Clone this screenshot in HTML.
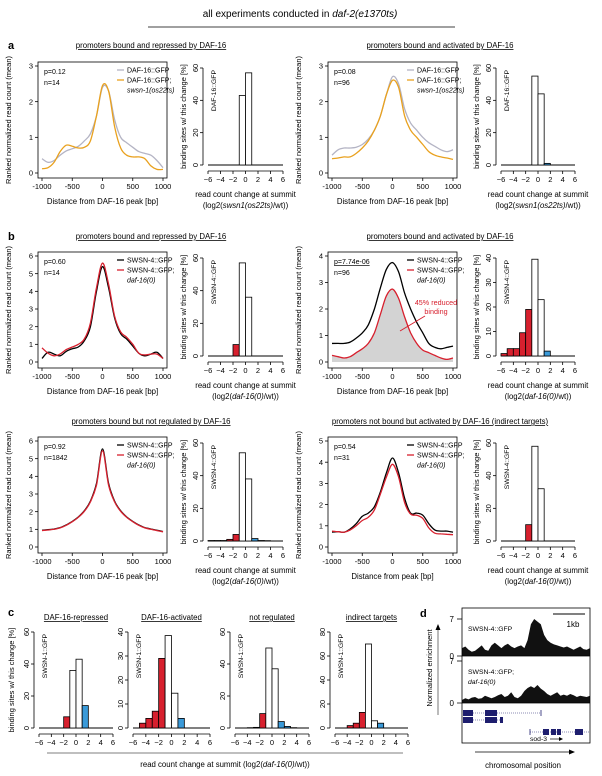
<!DOCTYPE html>
<html><head><meta charset="utf-8"><style>
html,body{margin:0;padding:0;background:#fff;}
svg{display:block;font-family:"Liberation Sans",Arial,sans-serif;}
</style></head><body>
<svg id="fig" width="602" height="776" viewBox="0 0 602 776" xmlns="http://www.w3.org/2000/svg">
<text x="300" y="17" font-size="10" text-anchor="middle">all experiments conducted in <tspan font-style="italic">daf-2(e1370ts)</tspan></text>
<line x1="148" y1="27" x2="455" y2="27" stroke="#000" stroke-width="0.8"/>
<text x="8" y="49" font-size="11" font-weight="bold">a</text>
<text x="8" y="240" font-size="11" font-weight="bold">b</text>
<text x="8" y="616" font-size="11" font-weight="bold">c</text>
<text x="420" y="617" font-size="11" font-weight="bold">d</text>
</svg>
<script>
// ---------- data ----------
const positions = [-1000,-900,-800,-700,-600,-500,-400,-300,-200,-100,0,100,200,300,400,500,600,700,800,900,1000];
const xTicks = [-1000,-500,0,500,1000];
const xTickLabels = ["-1000","-500","0","500","1000"];
const aLeftWT = [0.4,0.3,0.35,0.5,0.62,0.68,0.75,0.9,1.1,1.6,2.4,2.3,1.5,1.0,0.85,0.72,0.6,0.55,0.5,0.35,0.15];
const aLeftMut = [0.12,0.15,0.3,0.6,0.78,0.75,0.7,0.72,0.9,1.6,2.45,2.3,1.3,0.7,0.5,0.45,0.45,0.4,0.2,0.1,0.1];
const aRightWT = [0.5,0.65,0.7,0.7,0.72,0.8,0.95,1.2,1.6,2.2,2.7,2.5,1.8,1.4,1.2,1.0,0.85,0.75,0.65,0.6,0.65];
const aRightMut = [0.4,0.42,0.45,0.45,0.55,0.7,0.9,1.2,1.6,2.2,2.6,2.4,1.6,1.2,1.0,0.8,0.6,0.5,0.45,0.42,0.38];
const b1LeftWT = [0.2,0.55,0.45,0.35,0.6,0.75,0.85,1.2,2.0,4.0,5.4,4.2,2.5,1.6,1.3,0.9,0.5,0.35,0.45,0.55,0.2];
const b1LeftMut = [0.8,0.5,0.35,0.45,0.7,0.85,1.0,1.3,2.2,4.2,5.6,4.4,2.6,1.7,1.4,1.0,0.5,0.4,0.45,0.45,0.2];
const b1RightWT = [0.7,0.7,0.7,0.75,0.9,1.1,1.4,2.0,2.8,3.5,3.75,3.4,2.6,2.0,1.5,1.1,0.7,0.55,0.5,0.55,0.6];
const b1RightMut = [0.25,0.2,0.15,0.2,0.35,0.5,0.7,1.1,1.8,2.5,2.75,2.4,1.7,1.1,0.7,0.45,0.35,0.25,0.15,0.1,0.15];
const b2LeftWT = [0.95,0.98,1.02,1.1,1.25,1.45,1.7,2.05,2.6,3.6,5.55,3.6,2.6,2.05,1.7,1.45,1.25,1.1,1.02,0.95,0.88];
const b2LeftMut = [0.93,0.96,1.0,1.08,1.23,1.43,1.68,2.02,2.55,3.5,5.45,3.5,2.55,2.02,1.68,1.43,1.23,1.08,1.0,0.93,0.86];
const b2RightWT = [0.7,0.72,0.7,0.85,1.1,1.45,1.6,1.9,2.6,3.5,4.2,3.5,2.3,1.6,1.6,1.5,1.1,0.8,0.75,0.75,0.7];
const b2RightMut = [0.75,0.72,0.7,0.8,1.0,1.25,1.4,1.75,2.5,3.3,3.9,3.3,2.1,1.55,1.5,1.35,0.9,0.65,0.62,0.6,0.58];
const binStarts = [-6,-5,-4,-3,-2,-1,0,1,2,3,4,5];
const histTickVals = [-6,-4,-2,0,2,4,6];
const histTickLabels = ["\u22126","\u22124","\u22122","0","2","4","6"];
const histALeft = [0,0,0,0,0,43,57,0,0,0,0,0];
const histARight = [0,0,0,0,0,55,44,1,0,0,0,0];
const histB1Left = [0,0,0,0,7,57,36,0,0,0,0,0];
const histB1Right = [1,3,3,9.5,19,39.5,23,2,0,0,0,0];
const histB2Left = [0.3,0.3,0.3,1,4,54,38,1.5,0.3,0.2,0,0];
const histB2Right = [0,0,0,0,10,58,32,0,0,0,0,0];
const histC1 = [0,0,0,0,7,36,43,14,0,0,0,0];
const histC2 = [0,2,4,7,29,38.5,14.5,4,0,0,0,0];
const histC3 = [0,0,0.2,0.4,9,50,37,4,1,0.2,0,0];
const histC4 = [0,0,2,4,13,70,6,4,0,0,0,0];
const trackWT = [1.5,1.8,1.2,0.8,1,1.5,2,1.2,1,2,2.5,2,1.5,2,2.3,1.8,1.5,1.8,2,1.5,3,6,7,6.5,6,4,3,2.5,2.2,2,1.8,1.6,1.8,1.5,1.2,1.5,1.8,1.3,1.2,1.5];
const trackMut = [0.5,0.8,0.6,0.9,1,0.7,0.8,1.2,1,0.8,1,1.3,1.5,1,1.2,1.8,1,0.8,1.2,2,2.5,2.8,2.5,3,2.4,2,1.5,1.2,1.5,1.8,1.2,1.4,1.2,1.5,1.3,1,1.2,1.1,1,1.2];

// ---------- helpers ----------
const NS = "http://www.w3.org/2000/svg";
const svg = document.getElementById("fig");
function mk(tag, attrs, parent){const e=document.createElementNS(NS,tag);for(const k in attrs)e.setAttribute(k,attrs[k]);(parent||svg).appendChild(e);return e;}
function txt(x,y,s,size,anchor,parent,extra){const t=mk("text",Object.assign({x:x,y:y,"font-size":size,"text-anchor":anchor||"start"},extra||{}),parent);t.textContent=s;return t;}
function smooth(pts){let d="M"+pts[0][0]+","+pts[0][1];for(let i=0;i<pts.length-1;i++){const p0=pts[i-1]||pts[i],p1=pts[i],p2=pts[i+1],p3=pts[i+2]||p2;const c1=[p1[0]+(p2[0]-p0[0])/6,p1[1]+(p2[1]-p0[1])/6],c2=[p2[0]-(p3[0]-p1[0])/6,p2[1]-(p3[1]-p1[1])/6];d+=" C"+c1[0].toFixed(1)+","+c1[1].toFixed(1)+" "+c2[0].toFixed(1)+","+c2[1].toFixed(1)+" "+p2[0].toFixed(1)+","+p2[1].toFixed(1);}return d;}

function linePanel(c){
  const g=mk("g",{});
  
  
  const sx=v=>c.xa+(v+1000)/2000*(c.xb-c.xa);
  const sy=v=>c.ya0-v/c.ymax*(c.ya0-c.yaM);
  if(c.fill){const pts=positions.map((p,i)=>[sx(p),sy(c.fill[i])]);const f=mk("path",{d:smooth(pts)+" L"+sx(1000)+","+sy(0)+" L"+sx(-1000)+","+sy(0)+" Z",fill:"#d3d3d3",stroke:"none"},g);
    
    }
  c.series.forEach(s=>{const pts=positions.map((p,i)=>[sx(p),sy(s.vals[i])]);const p=mk("path",{d:smooth(pts),fill:"none",stroke:s.color,"stroke-width":1.3},g);
    
    });
  const box=mk("rect",{x:c.bx0,y:c.by0,width:c.bx1-c.bx0,height:c.by1-c.by0,fill:"none",stroke:"#000","stroke-width":0.8},g);
  
  
  xTicks.forEach((v,i)=>{mk("line",{x1:sx(v),x2:sx(v),y1:c.by1,y2:c.by1+3,stroke:"#000","stroke-width":0.8},g);txt(sx(v),c.by1+11,xTickLabels[i],7.5,"middle",g);});
  for(let v=0;v<=c.ymax;v++){mk("line",{x1:c.bx0-3,x2:c.bx0,y1:sy(v),y2:sy(v),stroke:"#000","stroke-width":0.8},g);txt(c.bx0-5,sy(v)+2.7,String(v),7.5,"end",g);}
  const yl=txt(0,0,"Ranked normalized read count (mean)",7.5,"middle",g,{transform:"translate("+(c.bx0-27)+","+((c.by0+c.by1)/2)+") rotate(-90)"});
  
  
  const xl=txt((c.bx0+c.bx1)/2,c.by1+26,c.xlabel,7.8,"middle",g);
  
  
  const pt=txt(c.bx0+6,c.by0+12,c.p,7,"start",g,c.pUnder?{"text-decoration":"underline"}:{});
  
  
  txt(c.bx0+6,c.by0+23,c.n,7,"start",g);
  const lx=c.bx0+79;
  c.series.forEach((s,i)=>{const y=c.by0+8+i*10;mk("line",{x1:lx,x2:lx+7,y1:y,y2:y,stroke:s.color,"stroke-width":1.3},g);txt(lx+10,y+2.5,s.label,7,"start",g);});
  const t2=mk("text",{x:lx+10,y:c.by0+30.5,"font-size":7,"font-style":"italic"},g);t2.textContent=c.mutLabel;
  const tt=txt(c.titleX,c.titleY,c.title,7.8,"middle",svg,{"text-decoration":"underline"});
  
  
}

function histPanel(c){
  const g=mk("g",{});
  
  
  const sx=v=>c.xa+(v+6)/12*(c.xb-c.xa);
  const sy=v=>c.y0-v/c.ymax*(c.y0-c.yM);
  mk("line",{x1:sx(-6),x2:sx(6),y1:c.y0,y2:c.y0,stroke:"#000","stroke-width":1},g);
  binStarts.forEach((b,i)=>{const v=c.vals[i];if(v<=0)return;const col=b<-1?"#d7202e":(b>=1?"#3a9ad9":"#fff");
    const r=mk("rect",{x:sx(b),y:sy(v),width:sx(b+1)-sx(b),height:c.y0-sy(v),fill:col,stroke:"#000","stroke-width":0.8},g);
    
    });
  const ax=sx(-6)-5, ay=c.y0+6;
  mk("line",{x1:sx(-6),x2:sx(6),y1:ay,y2:ay,stroke:"#000","stroke-width":0.8},g);
  histTickVals.forEach((v,i)=>{mk("line",{x1:sx(v),x2:sx(v),y1:ay,y2:ay+3,stroke:"#000","stroke-width":0.8},g);txt(sx(v),ay+11,histTickLabels[i],7.5,"middle",g);});
  mk("line",{x1:ax,x2:ax,y1:c.y0,y2:c.yM,stroke:"#000","stroke-width":0.8},g);
  c.yticks.forEach(v=>{mk("line",{x1:ax-3,x2:ax,y1:sy(v),y2:sy(v),stroke:"#000","stroke-width":0.8},g);txt(0,0,String(v),7.5,"middle",g,{transform:"translate("+(ax-5)+","+sy(v)+") rotate(-90)"});});
  if(c.ylabel){const yl=txt(0,0,"binding sites w/ this change [%]",7.5,"middle",g,{transform:"translate("+c.ylabX+","+((c.y0+c.yM)/2)+") rotate(-90)"});
    
    }
  txt(0,0,c.gfp,6.8,"end",g,{transform:"translate("+(sx(-6)+8)+","+(c.yM+2)+") rotate(-90)"});
  if(c.xl1){const m=(sx(-6)+sx(6))/2;txt(m,ay+26,c.xl1,7.8,"middle",g);
    const t=mk("text",{x:m,y:ay+37,"font-size":7.8,"text-anchor":"middle"},g);
    t.appendChild(document.createTextNode("(log2("));const it=mk("tspan",{"font-style":"italic"},t);it.textContent=c.xlIt;t.appendChild(document.createTextNode("/wt))"));}
  if(c.title){const tt=txt((sx(-6)+sx(6))/2,c.titleY,c.title,7.8,"middle",svg,{"text-decoration":"underline"});
    
    }
}

const L={bx0:38,bx1:167,xa:42,xb:163,hxa:208,hxb:283,hyl:186,titleX:151};
const R={bx0:328,bx1:457,xa:332,xb:453,hxa:501,hxb:575,hyl:479,titleX:440};
const rowA={by0:62,by1:178,ya0:173,yaM:66,hy0:165,hyM:68,titleY:48};
const rowB1={by0:252,by1:368,ya0:362,yaM:256,hy0:356,hyM:258,titleY:239};
const rowB2={by0:437,by1:553,ya0:547,yaM:441,hy0:541,hyM:443,titleY:424};
const GREY="#b4b4c4",ORANGE="#e9a11e",RED="#d7202e";

function row(col,rw,o){
  linePanel({name:o.name+"-profile",bx0:col.bx0,bx1:col.bx1,by0:rw.by0,by1:rw.by1,xa:col.xa,xb:col.xb,ya0:rw.ya0,yaM:rw.yaM,ymax:o.ymax,
    series:o.series,title:o.title,titleX:col.titleX,titleY:rw.titleY,p:o.p,pUnder:o.pUnder,n:o.n,mutLabel:o.mutLabel,xlabel:o.xlabel||"Distance from DAF-16 peak [bp]",fill:o.fill});
  histPanel({name:o.name+"-histogram",xa:col.hxa,xb:col.hxb,y0:rw.hy0,yM:rw.hyM,ymax:o.hmax,yticks:o.hticks,vals:o.hist,ylabel:true,ylabX:col.hyl,gfp:o.gfp,
    xl1:"read count change at summit",xlIt:o.xlIt});
}
const t60=[0,20,40,60];
row(L,rowA,{name:"a-repressed",ymax:3,series:[{vals:aLeftWT,color:GREY,label:"DAF-16::GFP",nm:"daf16-gfp-line"},{vals:aLeftMut,color:ORANGE,label:"DAF-16::GFP;",nm:"swsn1-mutant-line"}],
  title:"promoters bound and repressed by DAF-16",p:"p=0.12",n:"n=14",mutLabel:"swsn-1(os22ts)",hmax:60,hticks:t60,hist:histALeft,gfp:"DAF-16::GFP",xlIt:"swsn1(os22ts)"});
row(R,rowA,{name:"a-activated",ymax:3,series:[{vals:aRightWT,color:GREY,label:"DAF-16::GFP",nm:"daf16-gfp-line"},{vals:aRightMut,color:ORANGE,label:"DAF-16::GFP;",nm:"swsn1-mutant-line"}],
  title:"promoters bound and activated by DAF-16",p:"p=0.08",n:"n=96",mutLabel:"swsn-1(os22ts)",hmax:60,hticks:t60,hist:histARight,gfp:"DAF-16::GFP",xlIt:"swsn1(os22ts)"});
row(L,rowB1,{name:"b-repressed",ymax:6,series:[{vals:b1LeftWT,color:"#000",label:"SWSN-4::GFP",nm:"swsn4-gfp-line"},{vals:b1LeftMut,color:RED,label:"SWSN-4::GFP;",nm:"daf16-null-line"}],
  title:"promoters bound and repressed by DAF-16",p:"p=0.60",n:"n=14",mutLabel:"daf-16(0)",hmax:60,hticks:t60,hist:histB1Left,gfp:"SWSN-4::GFP",xlIt:"daf-16(0)"});
row(R,rowB1,{name:"b-activated",ymax:4,fill:b1RightMut,series:[{vals:b1RightWT,color:"#000",label:"SWSN-4::GFP",nm:"swsn4-gfp-line"},{vals:b1RightMut,color:RED,label:"SWSN-4::GFP;",nm:"daf16-null-line"}],
  title:"promoters bound and activated by DAF-16",p:"p=7.74e-06",pUnder:true,n:"n=96",mutLabel:"daf-16(0)",hmax:40,hticks:[0,10,20,30,40],hist:histB1Right,gfp:"SWSN-4::GFP",xlIt:"daf-16(0)"});
row(L,rowB2,{name:"b-not-regulated",ymax:6,series:[{vals:b2LeftWT,color:"#000",label:"SWSN-4::GFP",nm:"swsn4-gfp-line"},{vals:b2LeftMut,color:RED,label:"SWSN-4::GFP;",nm:"daf16-null-line"}],
  title:"promoters bound but not regulated by DAF-16",p:"p=0.92",n:"n=1842",mutLabel:"daf-16(0)",hmax:60,hticks:t60,hist:histB2Left,gfp:"SWSN-4::GFP",xlIt:"daf-16(0)"});
row(R,rowB2,{name:"b-indirect",ymax:5,series:[{vals:b2RightWT,color:"#000",label:"SWSN-4::GFP",nm:"swsn4-gfp-line"},{vals:b2RightMut,color:RED,label:"SWSN-4::GFP;",nm:"daf16-null-line"}],
  title:"promoters not bound but activated by DAF-16 (indirect targets)",xlabel:"Distance from peak [bp]",p:"p=0.54",n:"n=31",mutLabel:"daf-16(0)",hmax:60,hticks:t60,hist:histB2Right,gfp:"SWSN-4::GFP",xlIt:"daf-16(0)"});

// annotation in b-activated
const ann=txt(436,305,"45% reduced",7.2,"middle",svg,{fill:RED});


txt(436,314,"binding",7.2,"middle",svg,{fill:RED});
mk("line",{x1:425,y1:316,x2:400,y2:331,stroke:RED,"stroke-width":1});

// panel c
const cDefs=[{n:"c-repressed",xa:39,xb:113,max:60,t:[0,20,40,60],v:histC1,title:"DAF-16-repressed"},
  {n:"c-activated",xa:133,xb:210,max:40,t:[0,10,20,30,40],v:histC2,title:"DAF-16-activated"},
  {n:"c-not-regulated",xa:235,xb:309,max:60,t:[0,20,40,60],v:histC3,title:"not regulated"},
  {n:"c-indirect",xa:335,xb:408,max:80,t:[0,20,40,60,80],v:histC4,title:"indirect targets"}];
cDefs.forEach((d,i)=>histPanel({name:d.n+"-histogram",xa:d.xa,xb:d.xb,y0:728,yM:632,ymax:d.max,yticks:d.t,vals:d.v,ylabel:i===0,ylabX:14,gfp:"SWSN-1::GFP",title:d.title,titleY:620}));
mk("line",{x1:47,x2:403,y1:753,y2:753,stroke:"#000","stroke-width":0.6});
const cx=mk("text",{x:225,y:767,"font-size":7.8,"text-anchor":"middle"});


cx.appendChild(document.createTextNode("read count change at summit (log2("));
const cit=mk("tspan",{"font-style":"italic"},cx);cit.textContent="daf-16(0)";
cx.appendChild(document.createTextNode("/wt))"));

// panel d
const dg=mk("g",{});


const dx0=462,dx1=590;
function track(vals,base,top,nm){
  const sx=i=>dx0+i/(vals.length-1)*(dx1-dx0);
  const sy=v=>base-v/7*(base-top);
  let d="M"+dx0+","+base;vals.forEach((v,i)=>{d+=" L"+sx(i).toFixed(1)+","+sy(v).toFixed(1);});d+=" L"+dx1+","+base+" Z";
  const p=mk("path",{d:d,fill:"#111",stroke:"none"},dg);
  
  
  mk("line",{x1:dx0-5,x2:dx1,y1:base,y2:base,stroke:"#000","stroke-width":0.8},dg);
  mk("line",{x1:dx0-5,x2:dx0,y1:top,y2:top,stroke:"#000","stroke-width":0.8},dg);
  txt(dx0-8,top+3,"7",8,"end",dg);txt(dx0-8,base+3,"0",8,"end",dg);
}
track(trackWT,656,619,"swsn4-gfp-track");
track(trackMut,703,661,"swsn4-daf16-track");
mk("rect",{x:dx0,y:608,width:dx1-dx0,height:135,fill:"none",stroke:"#000","stroke-width":0.8},dg);
txt(468,631,"SWSN-4::GFP",6.8,"start",dg);
txt(468,674,"SWSN-4::GFP;",6.8,"start",dg);
txt(468,684,"daf-16(0)",6.8,"start",dg,{"font-style":"italic"});
mk("line",{x1:553,x2:585,y1:614,y2:614,stroke:"#000","stroke-width":1},dg);
txt(573,627,"1kb",8,"middle",dg);
const NAVY="#1e1e6e";
mk("line",{x1:463,x2:541,y1:713,y2:713,stroke:NAVY,"stroke-width":0.6,"stroke-dasharray":"1,1"},dg);
mk("line",{x1:541,x2:541,y1:710,y2:716,stroke:NAVY,"stroke-width":0.8},dg);
mk("line",{x1:463,x2:503,y1:720,y2:720,stroke:NAVY,"stroke-width":0.6,"stroke-dasharray":"1,1"},dg);
[[463,473,710],[485,497,710],[463,473,717],[485,497,717],[500,503,717]].forEach(b=>mk("rect",{x:b[0],y:b[2],width:b[1]-b[0],height:6,fill:NAVY},dg));
mk("line",{x1:530,x2:590,y1:732,y2:732,stroke:NAVY,"stroke-width":0.6,"stroke-dasharray":"1,1"},dg);
mk("line",{x1:530,x2:530,y1:729,y2:735,stroke:NAVY,"stroke-width":0.8},dg);
[[543,549],[551,556],[557,561],[575,583]].forEach(b=>mk("rect",{x:b[0],y:729,width:b[1]-b[0],height:6,fill:NAVY},dg));
txt(530,741,"sod-3",6.8,"start",dg);
mk("line",{x1:550,x2:562,y1:739,y2:739,stroke:"#000","stroke-width":0.7},dg);
mk("path",{d:"M563,739 L559,737 L559,741 Z",fill:"#000"},dg);
mk("line",{x1:475,x2:572,y1:752,y2:752,stroke:"#000","stroke-width":0.8},dg);
mk("path",{d:"M575,752 L569,749.5 L569,754.5 Z",fill:"#000"},dg);
txt(523,768,"chromosomal position",7.8,"middle",dg);
mk("line",{x1:438,x2:438,y1:628,y2:715,stroke:"#555","stroke-width":0.8},dg);
mk("path",{d:"M438,624 L435.5,630 L440.5,630 Z",fill:"#000"},dg);
txt(0,0,"Normalized enrichment",7.5,"middle",dg,{transform:"translate(432,668) rotate(-90)"});
</script>
</body></html>
